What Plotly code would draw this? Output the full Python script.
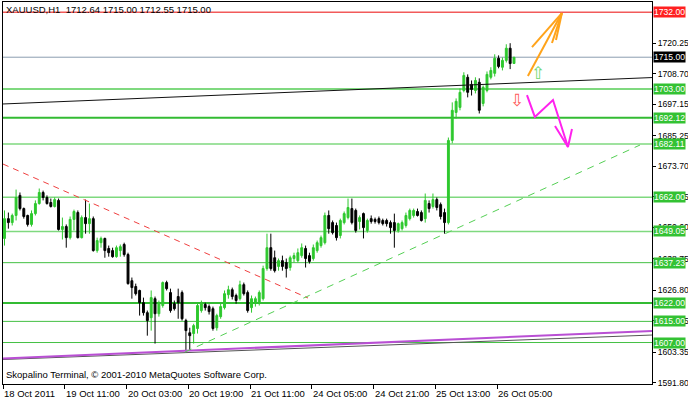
import plotly.graph_objects as go

# ---------------- data (XAUUSD H1, bar index 0..132) ----------------
opens = [1646.4,1653.9,1652.4,1655.1,1662.7,1657.7,1655.1,1651.7,1655.8,1659.6,
         1663.8,1661.9,1660.0,1658.5,1660.8,1649.8,1650.9,1646.7,1653.6,1656.2,
         1646.7,1654.3,1652.0,1653.9,1641.8,1644.8,1646.4,1642.6,1641.8,1639.5,
         1641.8,1644.1,1640.3,1630.4,1628.2,1626.7,1622.1,1618.3,1616.4,1623.6,
         1617.9,1621.0,1629.7,1625.9,1621.7,1624.4,1625.9,1615.3,1610.7,1610.4,
         1612.3,1619.1,1621.4,1620.6,1619.8,1612.6,1616.8,1620.2,1625.1,1627.0,
         1624.8,1623.6,1628.9,1625.9,1620.2,1622.1,1622.1,1623.6,1635.0,1642.9,
         1639.1,1635.8,1638.0,1637.3,1635.4,1638.8,1638.0,1639.9,1642.6,1639.9,
         1638.8,1641.8,1643.7,1644.8,1655.1,1652.4,1651.3,1647.5,1652.4,1654.3,
         1657.7,1657.0,1652.8,1655.8,1649.4,1653.9,1653.6,1653.9,1653.2,1653.2,
         1652.4,1652.4,1649.4,1650.1,1651.3,1653.9,1655.1,1656.6,1656.2,1653.9,
         1659.6,1658.5,1661.1,1659.2,1656.2,1652.4,1683.5,1694.1,1696.0,1702.4,
         1707.4,1704.7,1702.4,1705.5,1697.5,1702.4,1707.4,1708.9,1714.6,1711.2,
         1713.8,1718.4,1712.64]
highs = [1657.0,1656.2,1655.8,1664.9,1663.8,1658.1,1655.4,1657.0,1660.8,1665.3,
         1664.5,1662.7,1661.5,1661.9,1661.5,1654.3,1651.7,1654.7,1657.3,1657.0,
         1655.1,1661.1,1659.6,1654.7,1646.7,1647.1,1646.7,1643.7,1642.9,1643.7,
         1644.1,1644.8,1641.0,1631.6,1629.3,1627.0,1624.0,1619.1,1626.7,1624.4,
         1622.9,1630.1,1630.4,1627.4,1622.9,1627.4,1626.7,1616.0,1612.6,1614.1,
         1622.1,1622.9,1622.1,1621.4,1620.6,1617.9,1621.7,1626.7,1628.5,1627.8,
         1625.5,1630.4,1629.7,1626.7,1624.8,1624.4,1626.7,1636.1,1648.2,1648.2,
         1641.8,1638.8,1639.9,1638.8,1639.9,1641.0,1642.6,1644.5,1643.7,1641.0,
         1644.1,1645.6,1647.5,1656.2,1657.0,1653.2,1652.4,1653.9,1656.6,1661.5,
         1661.5,1657.7,1655.1,1656.2,1653.9,1655.1,1654.3,1654.7,1653.9,1653.9,
         1653.2,1655.8,1652.4,1653.2,1656.2,1657.7,1657.7,1657.7,1657.0,1663.4,
         1660.8,1663.4,1661.9,1660.0,1657.7,1684.6,1697.9,1699.4,1703.2,1709.3,
         1708.5,1706.2,1707.4,1707.0,1704.3,1709.6,1711.2,1716.1,1715.7,1714.9,
         1719.9,1720.3,1715.00]
lows = [1643.7,1650.1,1651.3,1653.2,1657.0,1653.9,1650.9,1650.9,1655.1,1659.2,
        1660.8,1659.2,1658.1,1658.1,1649.4,1646.0,1642.9,1646.0,1649.4,1646.4,
        1646.4,1648.2,1648.2,1641.4,1641.0,1642.9,1639.1,1639.5,1639.1,1639.1,
        1639.5,1639.5,1628.9,1623.6,1624.8,1617.2,1617.2,1609.6,1611.5,1606.6,
        1616.8,1620.2,1626.7,1618.3,1619.1,1616.0,1615.3,1603.9,1603.9,1606.6,
        1610.4,1618.3,1619.1,1617.6,1611.5,1611.5,1616.0,1619.5,1623.6,1623.3,
        1621.7,1622.9,1624.8,1618.3,1618.3,1620.6,1621.0,1622.9,1634.2,1634.2,
        1633.5,1634.2,1634.2,1631.6,1634.2,1637.3,1637.3,1639.1,1635.4,1636.9,
        1638.0,1641.0,1642.9,1644.1,1648.2,1647.9,1645.6,1646.4,1651.7,1653.6,
        1651.7,1648.6,1649.8,1646.4,1648.6,1652.0,1652.0,1651.7,1651.3,1650.9,
        1648.2,1642.9,1648.6,1649.4,1650.5,1653.2,1654.3,1654.7,1652.8,1652.4,
        1656.2,1657.7,1657.0,1653.6,1648.2,1651.7,1682.4,1691.8,1694.9,1701.7,
        1699.8,1700.5,1701.3,1693.7,1696.4,1701.7,1706.6,1707.7,1710.8,1710.0,
        1713.0,1710.5,1712.55]
closes = [1653.9,1652.4,1655.1,1661.9,1657.7,1654.7,1651.7,1655.8,1659.6,1663.8,
          1661.9,1659.6,1658.5,1661.1,1649.8,1650.9,1646.7,1653.6,1656.6,1646.7,
          1654.3,1652.0,1653.9,1641.8,1645.6,1646.4,1641.8,1641.0,1639.5,1642.9,
          1643.3,1640.3,1629.3,1627.8,1625.5,1622.1,1618.3,1615.3,1624.0,1617.9,
          1622.1,1629.7,1627.4,1619.1,1619.8,1622.1,1616.0,1611.5,1609.6,1613.4,
          1621.0,1621.7,1620.2,1618.7,1612.3,1617.2,1620.6,1625.5,1627.0,1624.4,
          1622.9,1628.9,1625.5,1619.1,1623.6,1623.6,1625.9,1635.0,1642.9,1635.0,
          1634.2,1638.0,1635.8,1635.0,1639.1,1639.9,1641.0,1642.9,1638.8,1637.7,
          1642.9,1644.8,1646.7,1655.1,1650.1,1648.6,1646.7,1653.2,1655.8,1658.1,
          1652.4,1649.4,1654.3,1650.5,1653.2,1652.8,1652.8,1652.4,1652.0,1652.0,
          1650.5,1649.4,1652.0,1652.4,1655.1,1657.0,1657.0,1655.1,1653.2,1660.8,
          1657.7,1661.1,1658.1,1654.7,1652.4,1683.5,1694.9,1698.3,1701.7,1708.1,
          1701.7,1702.8,1706.2,1694.9,1703.6,1708.5,1710.0,1714.6,1711.5,1713.8,
          1718.4,1712.6,1715.00]
bars = list(range(len(closes)))

time_tick_bars = [-0.35, 15.65, 31.65, 47.65, 63.65, 79.65, 95.65, 111.65, 127.65]
time_tick_labels = ["18 Oct 2011", "19 Oct 11:00", "20 Oct 03:00", "20 Oct 19:00",
                    "21 Oct 11:00", "24 Oct 05:00", "24 Oct 21:00", "25 Oct 13:00",
                    "26 Oct 05:00"]
price_ticks = [1720.25, 1708.70, 1697.15, 1685.25, 1673.70, 1662.15, 1650.60,
               1638.75, 1626.80, 1615.25, 1603.35, 1591.80]

green_levels = [1703.00, 1692.12, 1682.11, 1662.00, 1649.05, 1637.23, 1622.00, 1615.00, 1607.00]
red_level = 1732.00
bid_level = 1715.00

# trend lines (bar index, price)
black_x, black_y = [-0.39, 167.75], [1697.3, 1707.3]
purple_x, purple_y = [-0.39, 167.75], [1600.95, 1611.36]
gray_x, gray_y = [-0.39, 167.75], [1600.57, 1609.84]
red_dash_x, red_dash_y = [-0.39, 78.63], [1674.56, 1623.85]
green_dash_x, green_dash_y = [46.76, 164.64], [1603.41, 1681.76]
orange_x = [135.6, 144.4, None, 144.4, 136.66, None, 144.4, 141.84, None, 144.4, 142.88]
orange_y = [1707.9, 1731.7, None, 1731.7, 1718.85, None, 1731.7, 1720.37, None, 1731.7, 1721.5]
magenta_x = [135.36, 137.4, 142.1, 145.98, None, 142.62, 145.98, 147.02]
magenta_y = [1700.68, 1692.4, 1698.8, 1681.0, None, 1688.95, 1681.0, 1687.8]
up_arrow = (138.2, 1709.0)
down_arrow = (132.8, 1698.8)

header = "XAUUSD,H1&nbsp;&nbsp;1712.64 1715.00 1712.55 1715.00"
footer = "Skopalino Terminal, © 2001-2010 MetaQuotes Software Corp."

# ---------------- figure ----------------
FONT = "Liberation Sans, Arial, sans-serif"
FS = 9.5
FS_AX = 8.6
GREEN = "#2EC82E"

fig = go.Figure()

green_widths = [2, 2, 1.5, 1.5, 1.5, 1, 2, 1, 1]
green_colors = ["#7FD97F", "#33BB33", "#7FD97F", "#7FD97F", "#7FD97F",
                "#44C044", "#33BB33", "#44C044", "#44C044"]
shapes = []
for lv, w, c in zip(green_levels, green_widths, green_colors):
    shapes.append(dict(type="line", xref="paper", x0=0, x1=1, yref="y", y0=lv, y1=lv,
                       line=dict(color=c, width=w), layer="below"))
shapes.append(dict(type="line", xref="paper", x0=0, x1=1, yref="y", y0=red_level, y1=red_level,
                   line=dict(color="#F25A5A", width=1.5), layer="below"))
shapes.append(dict(type="line", xref="paper", x0=0, x1=1, yref="y", y0=bid_level, y1=bid_level,
                   line=dict(color="#8C9DB0", width=1), layer="below"))

fig.add_trace(go.Candlestick(
    x=bars, open=opens, high=highs, low=lows, close=closes,
    increasing=dict(line=dict(color=GREEN, width=1), fillcolor=GREEN),
    decreasing=dict(line=dict(color="#000000", width=1), fillcolor="#000000"),
    whiskerwidth=0, hoverinfo="skip", showlegend=False))

def line(x, y, color, width, dash="solid"):
    fig.add_trace(go.Scatter(x=x, y=y, mode="lines", line=dict(color=color, width=width, dash=dash),
                             hoverinfo="skip", showlegend=False, connectgaps=False))

line(gray_x, gray_y, "#555555", 1)
line(purple_x, purple_y, "#B94FD4", 2)
line(black_x, black_y, "#111111", 1)
line(red_dash_x, red_dash_y, "#F04040", 1, "6px,5px")
line(green_dash_x, green_dash_y, "#55D055", 1, "7px,6px")
line(orange_x, orange_y, "#FFA31A", 2)
line(magenta_x, magenta_y, "#FF22EE", 2)

annotations = []
annotations.append(dict(xref="x", yref="y", x=up_arrow[0], y=up_arrow[1], text="⇧",
                         showarrow=False, font=dict(family="DejaVu Sans", size=17, color="#6FD86F")))
annotations.append(dict(xref="x", yref="y", x=down_arrow[0], y=down_arrow[1], text="⇩",
                         showarrow=False, font=dict(family="DejaVu Sans", size=17, color="#FF5A5A")))

# box labels on price scale
boxes = [(red_level, "#FF2020"), (bid_level, "#000000")] + [(lv, "#33C233") for lv in green_levels]
for lv, bg in boxes:
    annotations.append(dict(xref="paper", x=1, xanchor="left", xshift=1, yref="y", y=lv,
                            text=f"{lv:.2f}", showarrow=False, bgcolor=bg, borderpad=0,
                            font=dict(family=FONT, size=FS_AX, color="#FFFFFF")))

# time labels (left aligned at tick)
for tb, tl in zip(time_tick_bars, time_tick_labels):
    annotations.append(dict(xref="x", x=tb, xanchor="left", xshift=-1, yref="paper", y=0,
                            yanchor="top", yshift=-2, text=tl, showarrow=False,
                            font=dict(family=FONT, size=FS, color="#000000")))

annotations.append(dict(xref="paper", x=0, xanchor="left", xshift=1, yref="paper", y=1,
                        yanchor="top", yshift=0, text=header, showarrow=False,
                        font=dict(family=FONT, size=FS, color="#000000")))
annotations.append(dict(xref="paper", x=0, xanchor="left", xshift=1, yref="paper", y=0,
                        yanchor="bottom", yshift=2, text=footer, showarrow=False,
                        font=dict(family=FONT, size=FS, color="#000000")))

fig.update_layout(
    width=688, height=401,
    margin=dict(l=3, r=36, t=2, b=17, autoexpand=False),
    paper_bgcolor="white", plot_bgcolor="white",
    showlegend=False, shapes=shapes, annotations=annotations,
    font=dict(family=FONT, size=FS, color="#000000"),
    xaxis=dict(range=[-0.39, 167.75], tickvals=time_tick_bars, showticklabels=False,
               ticks="outside", ticklen=4, tickcolor="#000000", showgrid=False, zeroline=False,
               showline=True, linecolor="#000000", linewidth=1, mirror=True, automargin=False,
               rangeslider=dict(visible=False), fixedrange=True),
    yaxis=dict(range=[1591.3, 1735.9], side="right", tickvals=price_ticks,
               ticktext=[f"{v:.2f}" for v in price_ticks], automargin=False,
               ticks="outside", ticklen=3, tickcolor="#000000", showgrid=False, zeroline=False,
               showline=True, linecolor="#000000", linewidth=1, mirror=True,
               ticklabelstandoff=0,
               tickfont=dict(family=FONT, size=FS_AX, color="#000000"), fixedrange=True),
)

fig.write_html("out.html", config={"displayModeBar": False},
               post_script="document.body.style.margin='0';document.body.style.padding='0';"
                           "document.documentElement.style.overflow='hidden';")
